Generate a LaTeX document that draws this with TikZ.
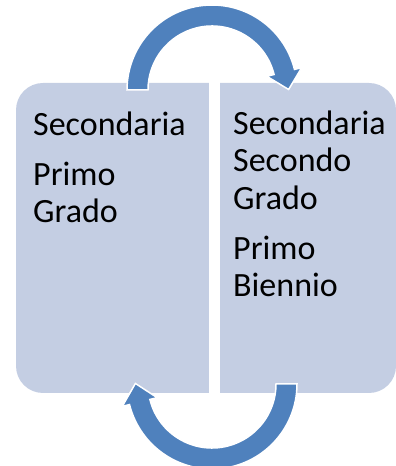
\documentclass[tikz,border=0pt]{standalone}
\usepackage{fontspec}
\setmainfont{Carlito}
\definecolor{panelblue}{HTML}{C4CEE3}
\definecolor{arrowblue}{HTML}{4F81BD}
\begin{document}
\begin{tikzpicture}[x=1pt, y=1pt,
    panel/.style={fill=panelblue, rounded corners=27pt},
    cyclearrow/.style={fill=arrowblue, draw=white, line width=1.5pt},
    boxtext/.style={anchor=base west, align=left, inner sep=0pt,
      font=\fontsize{34}{37.5}\selectfont}]
  \useasboundingbox (0,0) rectangle (396,466);

  % the two panels, split by a white gap
  \path[panel] (16,73) rectangle (396,383);
  \fill[white] (209,72) rectangle (220,384);

  % upper arrow, left panel to right panel
  \begin{scope}[shift={(212,376)}]
    \path[cyclearrow] (180:85pt) arc[start angle=180, end angle=14, radius=85pt]
      -- (14:92.5pt) -- (0.4:76.6pt) -- (14:56.5pt) -- (14:64pt)
      arc[start angle=14, end angle=180, radius=64pt] -- cycle;
  \end{scope}

  % lower arrow, right panel back to left panel
  \begin{scope}[shift={(212,82)}]
    \path[cyclearrow] (0:85pt) arc[start angle=0, end angle=-166, radius=85pt]
      -- (-166:92.5pt) -- (-180.4:76.6pt) -- (-166:56.5pt) -- (-166:64pt)
      arc[start angle=-166, end angle=0, radius=64pt] -- cycle;
  \end{scope}

  % base anchor sits on the last line
  \node[boxtext] (primoGrado) at (33,243) {Secondaria\\[12.5pt]Primo\\Grado};
  \node[boxtext] (secondoGrado) at (233,169) {Secondaria\\Secondo\\Grado\\[12.5pt]Primo\\Biennio};
\end{tikzpicture}
\end{document}
